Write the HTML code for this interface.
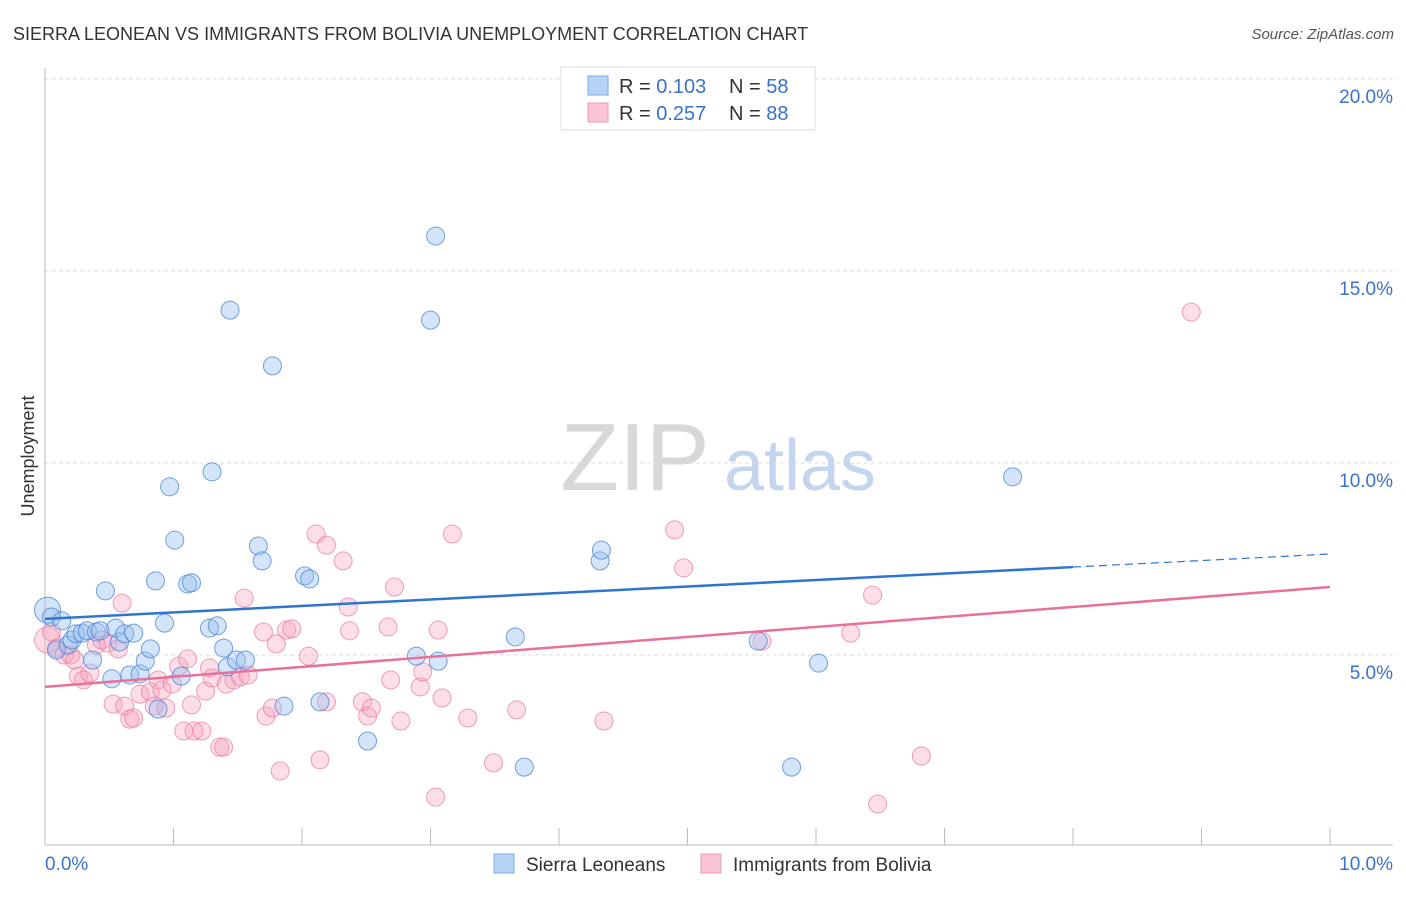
<!DOCTYPE html>
<html><head><meta charset="utf-8">
<style>
body{margin:0;background:#fff;font-family:"Liberation Sans",sans-serif;}
svg text{font-family:"Liberation Sans",sans-serif;}
</style></head>
<body>
<svg id="chart" width="1406" height="892">
<text x="13" y="40" font-size="18" fill="#333">SIERRA LEONEAN VS IMMIGRANTS FROM BOLIVIA UNEMPLOYMENT CORRELATION CHART</text>
<text x="1394" y="39" font-size="15" fill="#555" font-style="italic" text-anchor="end">Source: ZipAtlas.com</text>
<g>
<text x="635" y="490" font-size="96" font-family="Liberation Serif" fill="#d8d8d8" text-anchor="middle">ZIP</text>
<text x="800" y="490" font-size="72" fill="#c4d6ef" text-anchor="middle">atlas</text>
</g>
<g id="grid"></g>
<g id="axes"></g>
<g id="points"></g>
<g id="lines"></g>
<text transform="translate(34,456) rotate(-90)" font-size="18" fill="#333" text-anchor="middle">Unemployment</text>
<g>
<rect x="561" y="67" width="254" height="63" fill="#fff" stroke="#ddd"/>
<rect x="588" y="76" width="20" height="19" fill="#b8d4f5" stroke="#7aaae6"/>
<rect x="588" y="103" width="20" height="19" fill="#fbc4d5" stroke="#ef9ab5"/>
<text x="619" y="93" font-size="20" fill="#333">R = <tspan fill="#3a72c8">0.103</tspan></text>
<text x="729" y="93" font-size="20" fill="#333">N = <tspan fill="#3a72c8">58</tspan></text>
<text x="619" y="120" font-size="20" fill="#333">R = <tspan fill="#3a72c8">0.257</tspan></text>
<text x="729" y="120" font-size="20" fill="#333">N = <tspan fill="#3a72c8">88</tspan></text>
</g>
<g>
<rect x="494" y="854" width="20" height="19" fill="#b8d4f5" stroke="#7aaae6"/>
<text x="526" y="871" font-size="19" fill="#333">Sierra Leoneans</text>
<rect x="701" y="854" width="20" height="19" fill="#fbc4d5" stroke="#ef9ab5"/>
<text x="733" y="871" font-size="19" fill="#333">Immigrants from Bolivia</text>
</g>
</svg>
<script>
const yTicks=[5,10,15,20];
const yTickLabels=["5.0%","10.0%","15.0%","20.0%"];
const xTicks=[0,1,2,3,4,5,6,7,8,9,10];
const blueX=[0.02,0.05,0.13,0.09,0.18,0.21,0.24,0.29,0.33,0.40,0.43,0.47,0.37,0.52,0.55,0.58,0.62,0.69,0.66,0.74,0.78,0.82,0.86,0.88,0.93,0.97,1.01,1.06,1.11,1.14,1.28,1.30,1.34,1.39,1.44,1.42,1.49,1.56,1.66,1.69,1.77,1.86,2.02,2.06,2.14,2.51,2.89,3.00,3.04,3.06,3.66,3.73,4.32,4.33,5.55,5.81,6.02,7.53];
const blueY=[6.17,5.99,5.89,5.13,5.26,5.39,5.55,5.57,5.63,5.60,5.63,6.67,4.87,4.38,5.70,5.34,5.55,5.57,4.48,4.51,4.84,5.16,6.93,3.59,5.83,9.38,7.99,4.45,6.85,6.88,5.70,9.77,5.76,5.18,13.98,4.69,4.87,4.87,7.84,7.45,12.53,3.67,7.06,6.98,3.78,2.76,4.97,13.72,15.91,4.84,5.47,2.08,7.45,7.73,5.36,2.08,4.79,9.64];
const pinkX=[0.02,0.05,0.09,0.15,0.20,0.23,0.26,0.30,0.35,0.40,0.44,0.49,0.53,0.57,0.60,0.62,0.66,0.69,0.74,0.82,0.85,0.88,0.91,0.94,0.99,1.04,1.08,1.11,1.14,1.16,1.22,1.25,1.28,1.30,1.36,1.39,1.41,1.47,1.52,1.55,1.58,1.70,1.72,1.77,1.80,1.83,1.88,1.92,2.05,2.11,2.14,2.19,2.19,2.32,2.36,2.37,2.47,2.51,2.54,2.67,2.69,2.72,2.77,2.92,2.94,3.04,3.06,3.09,3.17,3.29,3.49,3.67,4.35,4.90,4.97,5.58,6.27,6.44,6.48,6.82,8.92];
const pinkY=[5.39,5.60,5.18,5.00,5.00,4.87,4.45,4.35,4.53,5.26,5.39,5.31,3.72,5.16,6.35,3.67,3.33,3.36,3.98,4.04,3.67,4.35,4.09,3.62,4.24,4.71,3.02,4.90,3.70,3.02,3.02,4.06,4.66,4.40,2.60,2.60,4.24,4.35,4.43,6.48,4.48,5.60,3.41,3.62,5.29,1.98,5.65,5.68,4.97,8.15,2.27,7.86,3.78,7.45,6.25,5.63,3.78,3.41,3.62,5.73,4.35,6.77,3.28,4.17,4.56,1.30,5.65,3.88,8.15,3.36,2.19,3.57,3.28,8.26,7.27,5.36,5.57,6.56,1.12,2.37,13.93];
const blueTrend=[5.94,7.29,7.63]; // at x=0, 8, 10
const pinkTrend=[4.17,6.77]; // at x=0, 10
const NS="http://www.w3.org/2000/svg";
const sx=v=>45+v*128.5, sy=v=>847-v*38.4;
function mk(tag,attrs,parent){const e=document.createElementNS(NS,tag);for(const k in attrs)e.setAttribute(k,attrs[k]);document.getElementById(parent).appendChild(e);return e;}
yTicks.forEach((t,i)=>{
 const g=mk('line',{x1:45,x2:1393,y1:sy(t),y2:sy(t),stroke:'#ddd','stroke-dasharray':'4,3'},'grid');
 
 
 const l=mk('text',{x:1393,y:sy(t)+24,'font-size':19,fill:'#3a72c8','text-anchor':'end'},'axes');
 l.textContent=yTickLabels[i];
 
 
});
const topGrid=mk('line',{x1:45,x2:1393,y1:79,y2:79,stroke:'#ddd','stroke-dasharray':'4,3'},'grid');


const ya=mk('line',{x1:45,x2:45,y1:68,y2:845,stroke:'#bbb'},'axes');


const xa=mk('line',{x1:45,x2:1393,y1:845,y2:845,stroke:'#bbb'},'axes');


xTicks.forEach(t=>{
 const k=mk('line',{x1:sx(t),x2:sx(t),y1:828,y2:845,stroke:'#bbb'},'axes');
 
 
});
const xl0=mk('text',{x:45,y:870,'font-size':19,fill:'#3a72c8'},'axes');xl0.textContent='0.0%';


const xl1=mk('text',{x:1393,y:870,'font-size':19,fill:'#3a72c8','text-anchor':'end'},'axes');xl1.textContent='10.0%';


pinkX.forEach((v,i)=>{
 const c=mk('circle',{cx:sx(v),cy:sy(pinkY[i]),r:i==0?13:9,fill:'rgba(246,160,188,0.35)',stroke:'rgba(232,120,156,0.7)','stroke-width':1},'points');
 
 
});
blueX.forEach((v,i)=>{
 const c=mk('circle',{cx:sx(v),cy:sy(blueY[i]),r:i==0?13:9,fill:'rgba(150,190,240,0.4)',stroke:'rgba(70,130,210,0.75)','stroke-width':1},'points');
 
 
});
const b1=mk('line',{x1:sx(0),y1:sy(blueTrend[0]),x2:sx(8),y2:sy(blueTrend[1]),stroke:'#2f74d0','stroke-width':2.5},'lines');


const b2=mk('line',{x1:sx(8),y1:sy(blueTrend[1]),x2:sx(10),y2:sy(blueTrend[2]),stroke:'#2f74d0','stroke-width':1.2,'stroke-dasharray':'8,5'},'lines');


const p1=mk('line',{x1:sx(0),y1:sy(pinkTrend[0]),x2:sx(10),y2:sy(pinkTrend[1]),stroke:'#e8709a','stroke-width':2.5},'lines');


</script>
</body></html>
